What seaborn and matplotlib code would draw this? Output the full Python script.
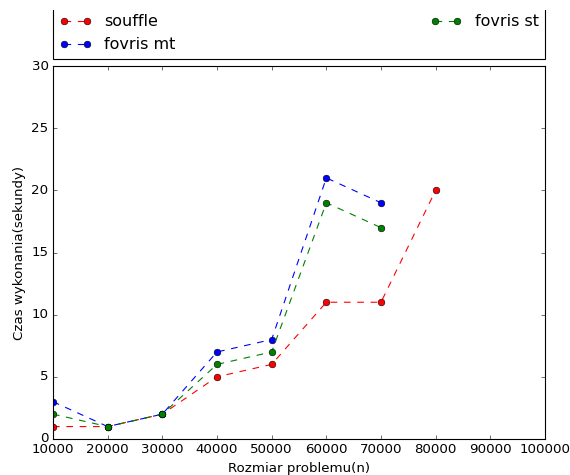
import matplotlib
matplotlib.use("Agg")
import matplotlib.pyplot as plt
import seaborn as sns
from matplotlib.transforms import Bbox, TransformedBbox

sizes = [10000, 20000, 30000, 40000, 50000, 60000, 70000, 80000]
souffle = [1, 1, 2, 5, 6, 11, 11, 20]
fovris_mt = [3, 1, 2, 7, 8, 21, 19]
fovris_st = [2, 1, 2, 6, 7, 19, 17]
xticks = [10000, 20000, 30000, 40000, 50000, 60000, 70000, 80000, 90000, 100000]
yticks = [0, 5, 10, 15, 20, 25, 30]

plt.style.use("classic")
plt.rcParams["font.family"] = ["DejaVu Sans"]

fig = plt.figure(figsize=(570 / 80, 475 / 80), dpi=80, facecolor="white")
ax = fig.add_axes([53 / 570, 1 - 439 / 475, (545 - 53) / 570, (439 - 66) / 475])

common = dict(marker="o", linestyle="--", linewidth=1, markersize=6,
              markeredgecolor="k", markeredgewidth=0.5, ax=ax)
sns.lineplot(x=sizes, y=souffle, color="red", label="souffle", **common)
sns.lineplot(x=sizes[:len(fovris_mt)], y=fovris_mt, color="blue", label="fovris mt", **common)
sns.lineplot(x=sizes[:len(fovris_st)], y=fovris_st, color="green", label="fovris st", **common)

ax.set_xlim(10000, 100000)
ax.set_ylim(0, 30)
ax.set_xticks(xticks)
ax.set_yticks(yticks)
ax.tick_params(labelsize=12)
ax.set_xlabel("Rozmiar problemu(n)", fontsize=12)
ax.set_ylabel("Czas wykonania(sekundy)", fontsize=12)

leg = ax.legend(bbox_to_anchor=(0., 1.02, 1., .102), loc=3, ncol=2, mode="expand",
                borderaxespad=0., numpoints=2, fontsize=14.4, frameon=True)
# the reference image is cropped just below the top edge of the legend frame
frame = leg.get_frame()
frame.set_clip_on(True)
frame.set_clip_box(TransformedBbox(Bbox([[0, 0], [1, 1 - 10 / 475]]), fig.transFigure))

fig.savefig("out.png", dpi=80, facecolor="white")
